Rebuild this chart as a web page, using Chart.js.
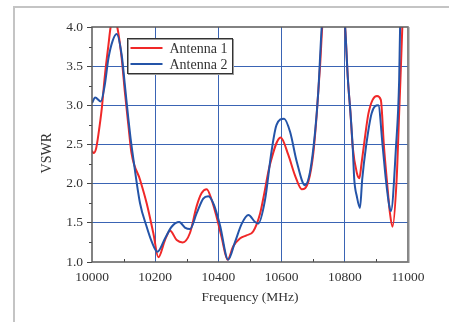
<!DOCTYPE html>
<html>
<head>
<meta charset="utf-8">
<script src="https://cdn.jsdelivr.net/npm/chart.js@4.4.1/dist/chart.umd.min.js"></script>
<style>
  html, body { margin: 0; padding: 0; background: #fff; }
  #wrap { position: relative; width: 449px; height: 322px; }
</style>
</head>
<body>
<div id="wrap"><canvas id="vswr" width="449" height="322"></canvas></div>
<script>
// VSWR of the two antennas
const seriesLabels = ['Antenna 1', 'Antenna 2'];

const antenna1Freq = [10000, 10005, 10013, 10020, 10031, 10041, 10052, 10059, 10070, 10080, 10094, 10104, 10115, 10125, 10152,
  10173, 10194, 10210, 10231, 10247, 10268, 10287, 10310, 10331, 10347, 10363, 10379, 10394, 10410, 10429, 10447, 10468,
  10489, 10510, 10532, 10542, 10563, 10597, 10621, 10642, 10664, 10685, 10701, 10711, 10722, 10729, 10765, 10801, 10810,
  10818, 10825, 10838, 10846, 10853, 10867, 10875, 10888, 10902, 10914, 10924, 10933, 10943, 10951, 10964, 10972, 10976,
  10982, 11000];
const antenna1Vswr = [2.42, 2.39, 2.45, 2.62, 2.96, 3.39, 3.77, 4.00, 4.12, 4.00, 3.60, 3.17, 2.75, 2.39, 2.05,
  1.75, 1.37, 1.06, 1.28, 1.40, 1.28, 1.25, 1.37, 1.71, 1.88, 1.93, 1.79, 1.58, 1.32, 1.03, 1.20, 1.30,
  1.34, 1.39, 1.62, 1.81, 2.24, 2.59, 2.37, 2.11, 1.93, 2.03, 2.41, 2.88, 3.52, 4.03, 5.50, 4.00, 3.32,
  2.90, 2.47, 2.14, 2.07, 2.26, 2.69, 2.90, 3.07, 3.12, 3.07, 2.47, 2.05, 1.62, 1.45, 2.05, 2.90, 3.32,
  4.00, 6.00];

const antenna2Freq = [10000, 10010, 10028, 10040, 10052, 10065, 10078, 10094, 10104, 10115, 10122, 10129, 10152, 10173, 10189,
  10207, 10231, 10252, 10276, 10294, 10310, 10331, 10352, 10368, 10386, 10405, 10431, 10453, 10474, 10495, 10516, 10526,
  10547, 10568, 10584, 10608, 10627, 10648, 10674, 10690, 10706, 10716, 10727, 10765, 10801, 10810, 10818, 10825, 10830,
  10838, 10848, 10855, 10867, 10885, 10906, 10920, 10930, 10941, 10946, 10962, 10972, 10975, 11000];
const antenna2Vswr = [3.03, 3.10, 3.05, 3.25, 3.60, 3.82, 3.91, 3.64, 3.26, 2.83, 2.58, 2.37, 1.75, 1.45, 1.26,
  1.13, 1.30, 1.45, 1.51, 1.44, 1.42, 1.62, 1.81, 1.84, 1.73, 1.47, 1.03, 1.26, 1.49, 1.60, 1.51, 1.49,
  1.78, 2.41, 2.75, 2.83, 2.66, 2.28, 1.98, 2.15, 2.66, 3.17, 4.00, 5.50, 4.00, 3.32, 2.90, 2.47, 2.05,
  1.84, 1.69, 2.05, 2.47, 2.90, 3.00, 2.47, 2.05, 1.71, 1.65, 2.47, 3.32, 4.00, 6.00];

// axis ranges
const freqMin = 10000, freqMax = 11000, freqStep = 200;
const vswrMin = 1.0, vswrMax = 4.0, vswrStep = 0.5;

const toPoints = (xs, ys) => xs.map((x, i) => ({ x: x, y: ys[i] }));

const FONT = '"Liberation Serif", "DejaVu Serif", serif';
const TEXT = '#333';
const GRID = '#3a64b4';

// 外枠（薄いグレー）
const outerFrame = {
  id: 'outerFrame',
  beforeDraw(chart) {
    const ctx = chart.ctx;
    ctx.save();
    ctx.strokeStyle = '#c4c4c4';
    ctx.lineWidth = 2;
    ctx.beginPath();
    ctx.moveTo(14, chart.height);
    ctx.lineTo(14, 7);
    ctx.lineTo(chart.width, 7);
    ctx.stroke();
    ctx.restore();
  }
};

// プロット枠、補助目盛、凡例
const plotFrame = {
  id: 'plotFrame',
  afterDatasetsDraw(chart) {
    const { ctx, chartArea: a, scales } = chart;
    ctx.save();
    // 補助目盛
    ctx.strokeStyle = '#444';
    ctx.lineWidth = 1;
    const xt = scales.x.ticks;
    for (let i = 0; i < xt.length - 1; i++) {
      const px = Math.round(scales.x.getPixelForValue((xt[i].value + xt[i + 1].value) / 2)) + 0.5;
      ctx.beginPath(); ctx.moveTo(px, a.bottom); ctx.lineTo(px, a.bottom - 3); ctx.stroke();
    }
    const yt = scales.y.ticks;
    for (let i = 0; i < yt.length - 1; i++) {
      const py = Math.round(scales.y.getPixelForValue((yt[i].value + yt[i + 1].value) / 2)) + 0.5;
      ctx.beginPath(); ctx.moveTo(a.left, py); ctx.lineTo(a.left - 3, py); ctx.stroke();
    }
    // 枠線
    ctx.strokeStyle = '#5a5a5a';
    ctx.lineWidth = 1.5;
    ctx.strokeRect(a.left, a.top, a.right - a.left, a.bottom - a.top);
    ctx.strokeStyle = '#8a8a8a';
    ctx.lineWidth = 2;
    ctx.beginPath(); ctx.moveTo(a.right + 0.5, a.top); ctx.lineTo(a.right + 0.5, a.bottom + 1); ctx.stroke();

    // 凡例
    const bx = a.left + 35.5, by = a.top + 11.5, bw = 105, bh = 35;
    ctx.fillStyle = '#fff';
    ctx.fillRect(bx, by, bw, bh);
    ctx.strokeStyle = '#9a9a9a';
    ctx.lineWidth = 1;
    ctx.strokeRect(bx + 1, by + 1, bw, bh);
    ctx.strokeStyle = '#333';
    ctx.strokeRect(bx, by, bw, bh);
    ctx.font = '14px ' + FONT;
    ctx.textBaseline = 'middle';
    ctx.textAlign = 'left';
    chart.data.datasets.forEach((ds, i) => {
      const ly = by + 9.5 + i * 16;
      ctx.strokeStyle = ds.borderColor;
      ctx.lineWidth = 2;
      ctx.beginPath(); ctx.moveTo(bx + 3, ly); ctx.lineTo(bx + 35, ly); ctx.stroke();
      ctx.fillStyle = TEXT;
      ctx.fillText(ds.label, bx + 42, ly + 1);
    });
    ctx.restore();
  }
};

new Chart(document.getElementById('vswr'), {
  type: 'line',
  data: {
    datasets: [{
      label: seriesLabels[0],
      data: toPoints(antenna1Freq, antenna1Vswr),
      borderColor: '#f02828',
      borderWidth: 2,
      pointRadius: 0,
      cubicInterpolationMode: 'monotone',
      fill: false,
      order: 2
    }, {
      label: seriesLabels[1],
      data: toPoints(antenna2Freq, antenna2Vswr),
      borderColor: '#2454a8',
      borderWidth: 2,
      pointRadius: 0,
      cubicInterpolationMode: 'monotone',
      fill: false,
      order: 1
    }]
  },
  options: {
    responsive: false,
    animation: false,
    layout: { padding: { left: 30, top: 27, right: 41, bottom: 14 } },
    plugins: { legend: { display: false }, tooltip: { enabled: false } },
    scales: {
      x: {
        type: 'linear',
        min: freqMin, max: freqMax,
        afterFit: s => { s.height = 46; },
        border: { display: false },
        grid: {
          color: c => (c.tick && c.tick.value > freqMin && c.tick.value < freqMax) ? GRID : 'rgba(0,0,0,0)',
          lineWidth: 1,
          drawTicks: false
        },
        ticks: {
          stepSize: freqStep, autoSkip: false, maxRotation: 0, padding: 7,
          color: TEXT, font: { family: FONT, size: 13.5 },
          callback: v => String(v)
        },
        title: {
          display: true, text: 'Frequency (MHz)', color: TEXT,
          font: { family: FONT, size: 13.5 }, padding: { top: 0, bottom: 2 }
        }
      },
      y: {
        type: 'linear',
        min: vswrMin, max: vswrMax,
        afterFit: s => { s.width = 62; },
        border: { display: false },
        grid: {
          color: c => (c.tick && c.tick.value > vswrMin && c.tick.value < vswrMax) ? GRID : 'rgba(0,0,0,0)',
          lineWidth: 1,
          tickLength: 5,
          tickColor: '#444'
        },
        ticks: {
          stepSize: vswrStep, autoSkip: false, padding: 4,
          color: TEXT, font: { family: FONT, size: 13.5 },
          callback: v => v.toFixed(1)
        },
        title: {
          display: true, text: 'VSWR     ', color: TEXT,
          font: { family: FONT, size: 14 }, padding: { top: 8.5, bottom: 0 }
        }
      }
    }
  },
  plugins: [outerFrame, plotFrame]
});
</script>
</body>
</html>
